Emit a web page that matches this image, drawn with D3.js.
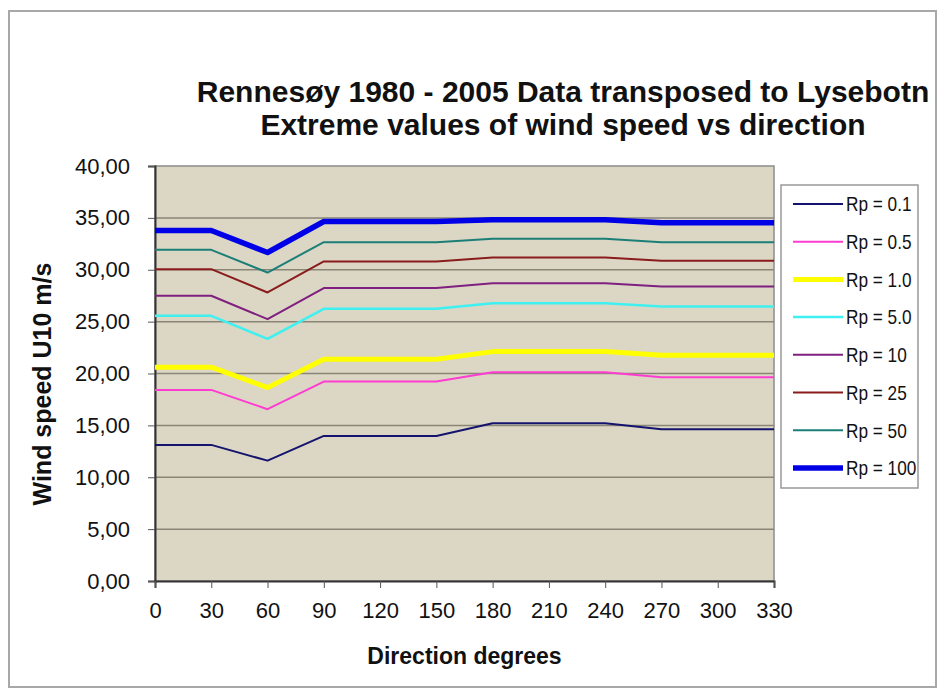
<!DOCTYPE html>
<html>
<head>
<meta charset="utf-8">
<script src="https://cdn.jsdelivr.net/npm/d3@7"></script>
<style>
  body { margin: 0; background: #fff; }
  svg text { font-family: "Liberation Sans", Arial, sans-serif; fill: #111; }
</style>
</head>
<body>
<div id="root"></div>
<script>
// direction categories (degrees)
const directions = [0, 30, 60, 90, 120, 150, 180, 210, 240, 270, 300, 330];
const yTicks = [0, 5, 10, 15, 20, 25, 30, 35, 40];

const seriesNames = ["Rp = 0.1", "Rp = 0.5", "Rp = 1.0", "Rp = 5.0", "Rp = 10", "Rp = 25", "Rp = 50", "Rp = 100"];

const rp01 = [13.12, 13.12, 11.60, 13.98, 13.98, 13.98, 15.21, 15.21, 15.21, 14.63, 14.63, 14.63];
const rp05 = [18.42, 18.42, 16.56, 19.22, 19.22, 19.22, 20.12, 20.12, 20.12, 19.64, 19.64, 19.64];
const rp1 = [20.61, 20.61, 18.64, 21.38, 21.38, 21.38, 22.11, 22.11, 22.11, 21.76, 21.76, 21.76];
const rp5 = [25.56, 25.56, 23.34, 26.23, 26.23, 26.23, 26.78, 26.78, 26.78, 26.45, 26.45, 26.45];
const rp10 = [27.49, 27.49, 25.24, 28.23, 28.23, 28.23, 28.71, 28.71, 28.71, 28.39, 28.39, 28.39];
const rp25 = [30.06, 30.06, 27.81, 30.80, 30.80, 30.80, 31.18, 31.18, 31.18, 30.86, 30.86, 30.86];
const rp50 = [31.92, 31.92, 29.73, 32.66, 32.66, 32.66, 32.98, 32.98, 32.98, 32.66, 32.66, 32.66];
const rp100 = [33.78, 33.78, 31.66, 34.65, 34.65, 34.65, 34.82, 34.82, 34.82, 34.53, 34.53, 34.53];

const seriesValues = [rp01, rp05, rp1, rp5, rp10, rp25, rp50, rp100];
const colors = ["#14146e", "#ff3cd2", "#ffff00", "#3ff0f0", "#7f1f7f", "#8a1c1c", "#1b7f78", "#0000e6"];
const widths = [2, 2, 5, 2.5, 2, 2, 2, 5.5];

const W = 945, H = 696;
const plot = { left: 155, right: 774, top: 166, bottom: 581 };

const svg = d3.select("#root").append("svg")
  .attr("width", W)
  .attr("height", H);

svg.append("rect").attr("width", W).attr("height", H).attr("fill", "#fff");

// outer chart border
svg.append("rect")
  .attr("x", 9).attr("y", 11)
  .attr("width", 927).attr("height", 676)
  .attr("fill", "none")
  .attr("stroke", "#a8a8a8")
  .attr("stroke-width", 2);

const x = d3.scalePoint()
  .domain(directions)
  .range([plot.left, plot.right]);

const y = d3.scaleLinear()
  .domain([0, 40])
  .range([plot.bottom, plot.top]);

// plot background
svg.append("rect")
  .attr("x", plot.left).attr("y", plot.top)
  .attr("width", plot.right - plot.left)
  .attr("height", plot.bottom - plot.top)
  .attr("fill", "#dcd7c5")
  .attr("stroke", "#8c8c8c")
  .attr("stroke-width", 1.5);

// gridlines
svg.append("g")
  .selectAll("line")
  .data(yTicks.slice(1, -1))
  .enter()
  .append("line")
  .attr("x1", plot.left).attr("x2", plot.right)
  .attr("y1", d => y(d)).attr("y2", d => y(d))
  .attr("stroke", "#8a8677")
  .attr("stroke-width", 1.5);

// axes
const fmt = d => d3.format(".2f")(d).replace(".", ",");

const yAxis = svg.append("g")
  .attr("transform", "translate(" + plot.left + ",0)")
  .call(d3.axisLeft(y).tickValues(yTicks).tickFormat(fmt).tickSize(7).tickPadding(18));

const xAxis = svg.append("g")
  .attr("transform", "translate(0," + plot.bottom + ")")
  .call(d3.axisBottom(x).tickSize(7).tickPadding(14));

[yAxis, xAxis].forEach(a => {
  a.select(".domain").attr("stroke", "#333").attr("stroke-width", 2);
  a.selectAll(".tick line").attr("stroke", "#555").attr("stroke-width", 1);
  a.selectAll(".tick text")
    .attr("fill", "#111")
    .style("font-size", "22px")
    .style("font-family", "'Liberation Sans', Arial, sans-serif");
});

// lines
const drawLine = d3.line()
  .x((d, i) => x(directions[i]))
  .y(d => y(d));

svg.append("g")
  .selectAll("path")
  .data(seriesValues)
  .enter()
  .append("path")
  .attr("d", drawLine)
  .attr("fill", "none")
  .attr("stroke", (d, i) => colors[i])
  .attr("stroke-width", (d, i) => widths[i])
  .attr("stroke-linejoin", "round");

// titles
svg.append("text")
  .attr("x", 563).attr("y", 102)
  .attr("text-anchor", "middle")
  .style("font-size", "30px").style("font-weight", "bold")
  .text("Rennesøy 1980 - 2005 Data transposed to Lysebotn");

svg.append("text")
  .attr("x", 563).attr("y", 135)
  .attr("text-anchor", "middle")
  .style("font-size", "30px").style("font-weight", "bold")
  .text("Extreme values of wind speed vs direction");

svg.append("text")
  .attr("x", (plot.left + plot.right) / 2).attr("y", 664)
  .attr("text-anchor", "middle")
  .style("font-size", "23px").style("font-weight", "bold")
  .text("Direction degrees");

svg.append("text")
  .attr("transform", "translate(51,384) rotate(-90)")
  .attr("text-anchor", "middle")
  .style("font-size", "25px").style("font-weight", "bold")
  .text("Wind speed U10 m/s");

// legend
const legend = svg.append("g").attr("transform", "translate(781,185)");

legend.append("rect")
  .attr("width", 137).attr("height", 303)
  .attr("fill", "#fff")
  .attr("stroke", "#999")
  .attr("stroke-width", 1.5);

const items = legend.selectAll(".item")
  .data(seriesNames)
  .enter()
  .append("g")
  .attr("class", "item")
  .attr("transform", (d, i) => "translate(0," + (19 + i * 37.7) + ")");

items.append("line")
  .attr("x1", 12).attr("x2", 62)
  .attr("stroke", (d, i) => colors[i])
  .attr("stroke-width", (d, i) => widths[i]);

// legend text is a bit narrow in the original
items.append("text")
  .attr("transform", "translate(65,0) scale(0.82,1)")
  .attr("dy", "0.35em")
  .style("font-size", "21px")
  .text(d => d);
</script>
</body>
</html>
